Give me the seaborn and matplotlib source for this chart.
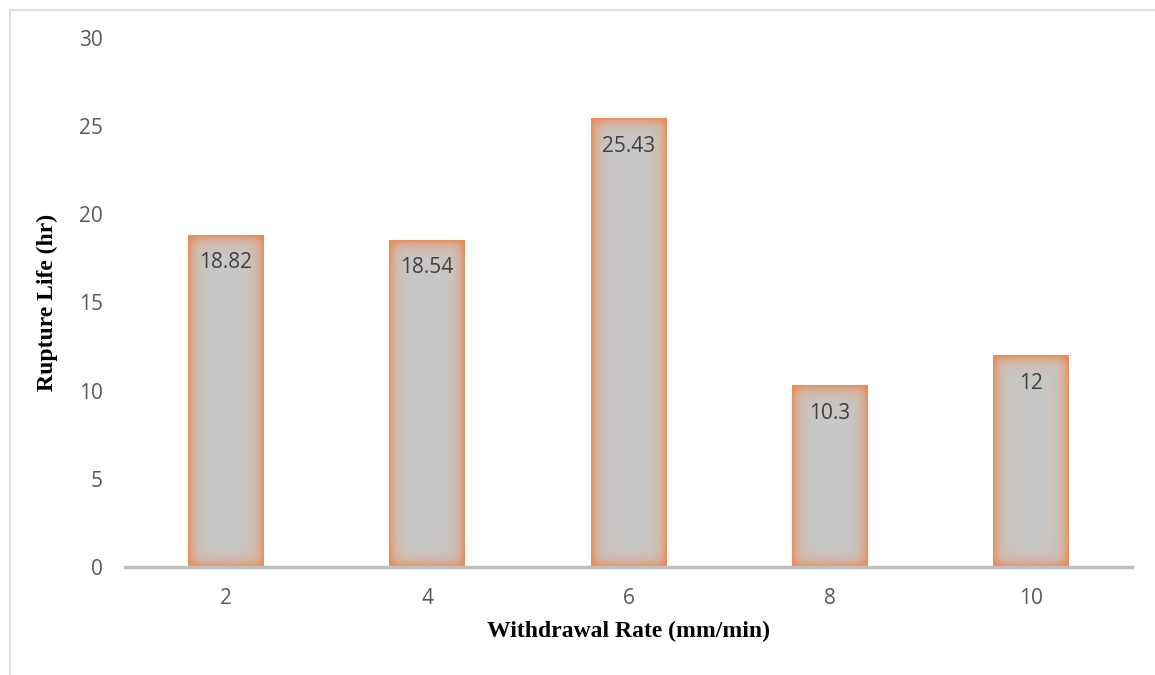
import matplotlib
matplotlib.use("Agg")

import matplotlib.pyplot as plt
import seaborn as sns
import pandas as pd
import numpy as np
from matplotlib.patches import Rectangle

# data
rates = ["2", "4", "6", "8", "10"]
rupture_life = [18.82, 18.54, 25.43, 10.3, 12]
value_labels = ["18.82", "18.54", "25.43", "10.3", "12"]

df = pd.DataFrame({"rate": rates, "life": rupture_life})

sns.set_theme(style="white")
plt.rcParams["font.family"] = ["Open Sans", "DejaVu Sans"]

W, H, DPI = 1155, 675, 100
fig = plt.figure(figsize=(W / DPI, H / DPI), dpi=DPI)
ax = fig.add_axes([125 / W, 1 - 567 / H, (1132 - 125) / W, (567 - 38) / H])

# outer chart border
fig.patches.append(Rectangle((10 / W, -0.01), 1.0, 1 - 10 / H + 0.01,
                             transform=fig.transFigure, fill=False,
                             edgecolor="#D9D9D9", linewidth=1.2))

sns.barplot(data=df, x="rate", y="life", ax=ax, color="#C8C8C8",
            width=0.377, saturation=1, order=rates)

ax.set_xlim(-0.5, 4.5)
ax.set_ylim(0, 30)
ax.set_yticks(range(0, 31, 5))

fig.canvas.draw()

# soft inner orange glow on each bar
gray = np.array([200, 200, 200]) / 255
orange = np.array([234, 140, 88]) / 255
for p in ax.patches:
    x0, y0 = p.get_x(), p.get_y()
    w, h = p.get_width(), p.get_height()
    (px0, py0), (px1, py1) = ax.transData.transform([(x0, y0), (x0 + w, y0 + h)])
    nw, nh = max(int(round(px1 - px0)), 2), max(int(round(py1 - py0)), 2)
    xx = np.arange(nw) + 0.5
    yy = np.arange(nh) + 0.5
    dx = np.minimum(xx, nw - xx)[None, :]
    dy = np.minimum(yy, nh - yy)[:, None]
    # smooth-min of edge distances for rounded glow corners
    d = -4.0 * np.log(np.exp(-dx / 4.0) + np.exp(-dy / 4.0))
    d = np.clip(d, 0, None)
    t = np.exp(-d / 6.0)
    img = gray[None, None, :] * (1 - t[..., None]) + orange[None, None, :] * t[..., None]
    ax.imshow(img, extent=(x0, x0 + w, y0, y0 + h), aspect="auto",
              interpolation="bilinear", zorder=p.get_zorder() + 0.1)
    p.set_visible(False)

ax.set_xlim(-0.5, 4.5)
ax.set_ylim(0, 30)

for i, (v, lab) in enumerate(zip(rupture_life, value_labels)):
    ax.annotate(lab, (i, v), xytext=(0, -20), textcoords="offset points",
                ha="center", va="center", fontsize=15, color="#404040", zorder=5)

for s in ["top", "right", "left"]:
    ax.spines[s].set_visible(False)
ax.spines["bottom"].set_color("#BFBFBF")
ax.spines["bottom"].set_linewidth(2.5)
ax.spines["bottom"].set_zorder(6)

ax.tick_params(axis="both", length=0, labelsize=15, labelcolor="#595959")
ax.tick_params(axis="y", pad=16)
ax.tick_params(axis="x", pad=15)

ax.set_xlabel("Withdrawal Rate (mm/min)", fontsize=17, fontweight="bold",
              family="Liberation Serif", color="black", labelpad=9)
ax.set_ylabel("Rupture Life (hr)", fontsize=17, fontweight="bold",
              family="Liberation Serif", color="black", labelpad=15)

fig.savefig("out.png", dpi=DPI)
